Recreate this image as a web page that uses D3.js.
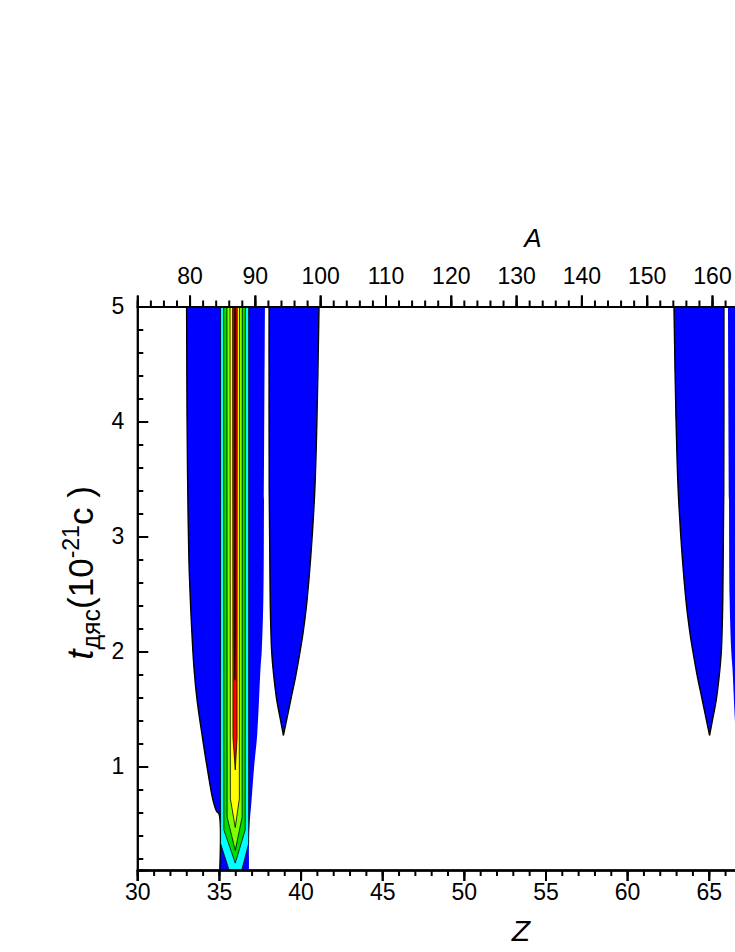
<!DOCTYPE html>
<html>
<head>
<meta charset="utf-8">
<script src="https://cdn.jsdelivr.net/npm/d3@7"></script>
<style>
body { margin: 0; background: #fff; }
svg { display: block; font-family: "Liberation Sans", Arial, sans-serif; }
</style>
</head>
<body>
<div id="chart"></div>
<script>
// tick labels (the frame goes on past the right edge of the picture)
var zTicks = [30, 35, 40, 45, 50, 55, 60, 65];
var aTicks = [80, 90, 100, 110, 120, 130, 140, 150, 160];
var tTicks = [1, 2, 3, 4, 5];

// blue regions, edges as [Z, t] from top to bottom
var regionALeft = [[33.02,5],[33.05,4.0],[33.09,3.4],[33.16,2.8],[33.25,2.45],[33.33,2.2],[33.47,1.86],[33.66,1.58],[33.95,1.29],[34.28,0.99],[34.63,0.71],[34.86,0.61],[35.0,0.59],[35.05,0.1]];
var regionARight = [[37.82,5],[37.76,3.31],[37.72,2.45],[37.62,2.0],[37.55,1.86],[37.35,1.29],[37.15,0.99],[37.0,0.71],[36.86,0.45],[36.84,0.1]];
var regionBLeft = [[38.07,5],[38.08,3.4],[38.14,2.45],[38.23,2.0],[38.35,1.8],[38.54,1.58],[38.75,1.42],[38.95,1.27]];
var regionBRight = [[41.13,5],[41.0,4.0],[40.84,3.31],[40.4,2.45],[40.15,2.16],[39.97,2.0],[39.72,1.8],[39.4,1.58],[38.95,1.27]];
var regionCLeft = [[62.87,5],[63.0,4.0],[63.16,3.31],[63.6,2.45],[63.85,2.16],[64.03,2.0],[64.28,1.8],[64.6,1.58],[65.05,1.27]];
var regionCRight = [[65.93,5],[65.92,3.4],[65.86,2.45],[65.77,2.0],[65.65,1.8],[65.46,1.58],[65.25,1.42],[65.05,1.27]];
var regionDLeft = [[66.18,5],[66.24,3.31],[66.28,2.45],[66.38,2.0],[66.45,1.86],[66.65,1.29],[66.85,0.99],[67.0,0.71],[67.14,0.45],[67.16,0.1]];
var regionDRight = [[70.98,5],[70.95,4.0],[70.91,3.4],[70.84,2.8],[70.75,2.45],[70.67,2.2],[70.53,1.86],[70.34,1.58],[70.05,1.29],[69.72,0.99],[69.37,0.71],[69.14,0.61],[69.0,0.59],[68.95,0.1]];

// inner levels of the peak at Z = 36 (cyan, green, lime, yellow, red, dark red)
var peak36Left = [
  [[35.10,5],[35.10,0.33],[35.62,0.1]],
  [[35.29,5],[35.30,0.45],[36.0,0.16]],
  [[35.49,5],[35.50,0.56],[36.0,0.27]],
  [[35.68,5],[35.70,0.72],[36.0,0.47]],
  [[35.84,5],[35.86,1.25],[36.0,0.97]],
  [[35.94,5],[35.95,2.2],[35.98,1.75]]
];
var peak36Right = [
  [[36.82,5],[36.82,0.33],[36.40,0.1]],
  [[36.62,5],[36.61,0.45],[36.0,0.16]],
  [[36.43,5],[36.42,0.56],[36.0,0.27]],
  [[36.26,5],[36.25,0.72],[36.0,0.47]],
  [[36.12,5],[36.11,1.25],[36.0,0.97]],
  [[36.02,5],[36.01,2.2],[35.98,1.75]]
];
// inner levels of the peak at Z = 68
var peak68Left = [
  [[67.18,5],[67.18,0.33],[67.60,0.1]],
  [[67.38,5],[67.39,0.45],[68.0,0.16]],
  [[67.57,5],[67.58,0.56],[68.0,0.27]],
  [[67.74,5],[67.75,0.72],[68.0,0.47]],
  [[67.88,5],[67.89,1.25],[68.0,0.97]],
  [[67.98,5],[67.99,2.2],[68.02,1.75]]
];
var peak68Right = [
  [[68.90,5],[68.90,0.33],[68.38,0.1]],
  [[68.71,5],[68.70,0.45],[68.0,0.16]],
  [[68.51,5],[68.50,0.56],[68.0,0.27]],
  [[68.32,5],[68.30,0.72],[68.0,0.47]],
  [[68.16,5],[68.14,1.25],[68.0,0.97]],
  [[68.06,5],[68.05,2.2],[68.02,1.75]]
];
var levelColors = ["#00ffff", "#00dd00", "#80ff00", "#ffff00", "#ff0000", "#b00000"];

drawChart();

function drawChart() {
var W = 735, H = 952;
var margin = {top: 306.5, left: 137.3, bottom: 870, right: 921};

var svg = d3.select("#chart").append("svg").attr("width", W).attr("height", H);

// set x scales (Z bottom, A top)
var z = d3.scaleLinear().domain([30, 78]).range([margin.left, margin.right]);
var a = d3.scaleLinear().domain([72, 192]).range([margin.left, margin.right]);
// set y scale
var t = d3.scaleLinear().domain([0.1, 5]).range([margin.bottom, margin.top]);

svg.append("clipPath").attr("id", "plot")
  .append("rect")
    .attr("x", margin.left).attr("y", margin.top)
    .attr("width", margin.right - margin.left).attr("height", margin.bottom - margin.top);

var straight = d3.line().x(function(d) { return z(d[0]); }).y(function(d) { return t(d[1]); });
var smooth = d3.line().x(function(d) { return z(d[0]); }).y(function(d) { return t(d[1]); })
  .curve(d3.curveCatmullRom.alpha(0.5));

var g = svg.append("g").attr("clip-path", "url(#plot)");

// region: fill, then outline of the edges that have one
function region(left, right, color, strokeLeft, strokeRight, line, sw) {
  var back = line(right.slice().reverse());
  g.append("path").attr("d", line(left) + "L" + back.slice(1) + "Z").attr("fill", color).attr("stroke", "none");
  if (strokeLeft) g.append("path").attr("d", line(left)).attr("fill", "none").attr("stroke", "#000").attr("stroke-width", sw);
  if (strokeRight) g.append("path").attr("d", line(right)).attr("fill", "none").attr("stroke", "#000").attr("stroke-width", sw);
}

region(regionALeft, regionARight, "#0000ff", true, false, smooth, 1.4);
region(regionBLeft, regionBRight, "#0000ff", true, true, smooth, 1.4);
region(regionCLeft, regionCRight, "#0000ff", true, true, smooth, 1.4);
region(regionDLeft, regionDRight, "#0000ff", false, true, smooth, 1.4);
levelColors.forEach(function(c, i) {
  region(peak36Left[i], peak36Right[i], c, true, true, straight, 0.8);
  region(peak68Left[i], peak68Right[i], c, true, true, straight, 0.8);
});

// axes
function minor(lo, hi, step) {
  return d3.range(Math.round((hi - lo) / step) + 1).map(function(i) { return +(lo + i * step).toFixed(2); });
}

svg.append("g")
    .attr("class", "axis")
    .attr("transform", "translate(0," + margin.bottom + ")")
    .call(d3.axisBottom(z).tickValues(minor(30, 78, 1)).tickSize(6).tickFormat(""));
svg.append("g")
    .attr("class", "axis")
    .attr("transform", "translate(0," + margin.bottom + ")")
    .call(d3.axisBottom(z).tickValues(minor(30, 75, 5)).tickSize(11).tickFormat(""));
svg.append("g")
    .attr("class", "axis major")
    .attr("transform", "translate(0," + margin.bottom + ")")
    .call(d3.axisBottom(z).tickValues(zTicks).tickSize(11).tickPadding(3));

svg.append("g")
    .attr("class", "axis")
    .attr("transform", "translate(0," + margin.top + ")")
    .call(d3.axisTop(a).tickValues(minor(72, 192, 2)).tickSize(6).tickFormat(""));
svg.append("g")
    .attr("class", "axis")
    .attr("transform", "translate(0," + margin.top + ")")
    .call(d3.axisTop(a).tickValues(minor(80, 190, 10)).tickSize(11).tickFormat(""));
svg.append("g")
    .attr("class", "axis major")
    .attr("transform", "translate(0," + margin.top + ")")
    .call(d3.axisTop(a).tickValues(aTicks).tickSize(11).tickPadding(12));

svg.append("g")
    .attr("class", "axis")
    .attr("transform", "translate(" + margin.left + ",0)")
    .call(d3.axisRight(t).tickValues(minor(0.2, 4.8, 0.2)).tickSize(6).tickFormat(""));
var yAxis = svg.append("g")
    .attr("class", "axis major")
    .attr("transform", "translate(" + margin.left + ",0)")
    .call(d3.axisRight(t).tickValues(tTicks).tickSize(11).tickFormat(d3.format("d")));
yAxis.selectAll("text").attr("x", -13).attr("text-anchor", "end");

svg.selectAll(".axis path").attr("stroke", "#000").attr("stroke-width", 2);
svg.selectAll(".axis line").attr("stroke", "#000").attr("stroke-width", 2);
svg.selectAll(".axis text").attr("font-size", 23).attr("fill", "#000")
  .attr("font-family", "'Liberation Sans', Arial, sans-serif");

// axis titles
svg.append("text").attr("x", 533).attr("y", 247).attr("text-anchor", "middle")
  .attr("font-size", 26).attr("font-style", "italic").text("A");
svg.append("text").attr("x", 521).attr("y", 941).attr("text-anchor", "middle")
  .attr("font-size", 30).attr("font-style", "italic").text("Z");

var yt = svg.append("text")
  .attr("transform", "translate(93,573) rotate(-90)")
  .attr("text-anchor", "middle").attr("font-size", 35);
yt.append("tspan").attr("font-style", "italic").attr("font-size", 37).text("t");
yt.append("tspan").attr("font-size", 25).attr("dy", 7).text("дяс");
yt.append("tspan").attr("dy", -7).text("(10");
yt.append("tspan").attr("font-size", 23).attr("dy", -14).text("-21");
yt.append("tspan").attr("dy", 14).text("с )");
}
</script>
</body>
</html>
